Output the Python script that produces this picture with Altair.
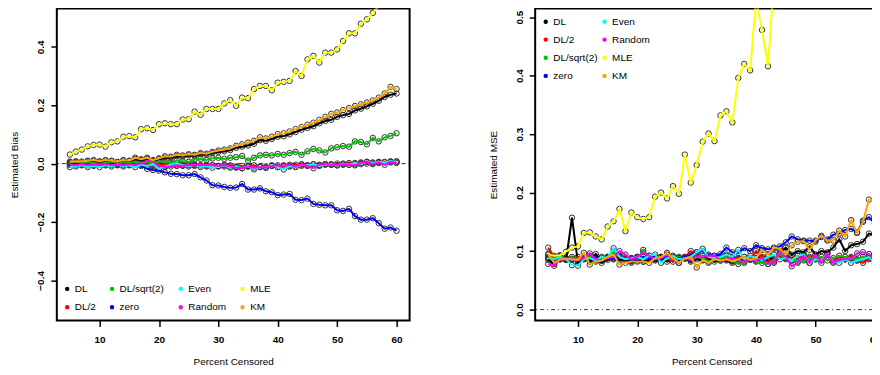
import altair as alt
import pandas as pd

# ---------------- data ----------------
x_pct = list(range(5, 61))
series = ["DL", "DL/2", "DL/sqrt(2)", "zero", "Even", "Random", "MLE", "KM"]
colors = ["#000000", "#FF0000", "#00C400", "#0000FF", "#00FFFF", "#FF00FF", "#FFFF00", "#FFA500"]

bias_DL = [0.004, 0.006, 0.004, 0.008, 0.010, 0.006, 0.010, 0.008, 0.004, 0.010,
           0.008, 0.016, 0.012, 0.016, 0.010, 0.015, 0.020, 0.020, 0.025, 0.024,
           0.028, 0.027, 0.032, 0.030, 0.036, 0.040, 0.042, 0.046, 0.054, 0.058,
           0.062, 0.068, 0.080, 0.078, 0.084, 0.092, 0.094, 0.100, 0.108, 0.116,
           0.122, 0.128, 0.138, 0.146, 0.150, 0.160, 0.166, 0.170, 0.182, 0.188,
           0.196, 0.205, 0.215, 0.228, 0.236, 0.240]
bias_DL2 = [0.000, 0.002, -0.002, 0.001, -0.003, 0.000, -0.002, 0.002, -0.003, 0.000,
            -0.002, 0.002, -0.004, -0.002, -0.008, -0.004, -0.006, -0.003, -0.008, -0.006,
            -0.004, -0.008, -0.006, -0.010, -0.005, -0.008, -0.010, -0.006, -0.012, -0.008,
            -0.010, -0.006, -0.012, -0.010, -0.008, -0.012, -0.006, -0.010, -0.004, -0.008,
            -0.006, -0.003, -0.006, -0.002, -0.004, 0.000, -0.004, 0.002, -0.002, 0.004,
            0.000, 0.004, 0.002, 0.006, 0.004, 0.008]
bias_DLs2 = [0.002, 0.003, 0.000, 0.004, 0.002, -0.002, 0.003, 0.002, -0.002, 0.004,
             0.001, 0.006, 0.002, 0.005, 0.000, 0.008, 0.006, 0.004, 0.010, 0.008,
             0.006, 0.014, 0.016, 0.012, 0.018, 0.020, 0.016, 0.020, 0.022, 0.026,
             0.010, 0.020, 0.028, 0.030, 0.028, 0.033, 0.030, 0.036, 0.040, 0.030,
             0.042, 0.050, 0.045, 0.038, 0.052, 0.056, 0.060, 0.058, 0.076, 0.074,
             0.066, 0.088, 0.076, 0.090, 0.095, 0.104]
bias_zero = [-0.003, 0.000, -0.004, -0.002, -0.006, -0.003, -0.005, -0.001, -0.006, -0.003,
             -0.004, -0.001, -0.008, -0.018, -0.022, -0.024, -0.030, -0.035, -0.036, -0.040,
             -0.040, -0.036, -0.047, -0.058, -0.074, -0.075, -0.080, -0.083, -0.082, -0.070,
             -0.089, -0.089, -0.085, -0.095, -0.098, -0.108, -0.106, -0.104, -0.124, -0.125,
             -0.120, -0.138, -0.141, -0.143, -0.143, -0.160, -0.162, -0.155, -0.180, -0.192,
             -0.192, -0.187, -0.204, -0.223, -0.219, -0.230]
bias_Even = [-0.012, -0.010, -0.006, -0.012, -0.008, -0.012, -0.006, -0.010, -0.004, -0.010,
             -0.006, -0.012, -0.004, -0.008, -0.002, -0.018, -0.010, -0.004, 0.002, -0.006,
             -0.010, -0.004, -0.012, -0.008, -0.014, -0.010, -0.006, -0.014, -0.010, -0.016,
             -0.008, -0.020, -0.010, -0.014, -0.006, -0.012, -0.020, -0.008, -0.012, -0.004,
             -0.006, -0.002, -0.008, -0.004, -0.002, -0.006, 0.000, -0.004, 0.002, -0.002,
             0.006, 0.002, 0.006, 0.004, 0.008, 0.006]
bias_Random = [-0.004, -0.006, -0.002, -0.006, -0.003, -0.004, -0.002, -0.005, -0.004, -0.006,
               -0.003, -0.002, 0.000, 0.010, 0.008, -0.008, -0.012, -0.010, -0.006, -0.008,
               -0.006, -0.004, -0.006, -0.004, -0.006, -0.008, -0.004, -0.010, -0.014, -0.016,
               -0.010, -0.014, -0.012, -0.014, -0.008, -0.006, -0.008, -0.004, -0.010, -0.002,
               -0.008, -0.016, -0.004, -0.002, -0.004, -0.006, -0.002, -0.004, -0.006, 0.002,
               0.006, -0.002, 0.004, -0.004, 0.006, 0.002]
bias_MLE = [0.031, 0.041, 0.048, 0.059, 0.064, 0.065, 0.058, 0.073, 0.076, 0.092,
            0.094, 0.090, 0.118, 0.121, 0.115, 0.135, 0.138, 0.135, 0.135, 0.151,
            0.152, 0.178, 0.167, 0.187, 0.187, 0.187, 0.206, 0.217, 0.198, 0.226,
            0.224, 0.255, 0.266, 0.266, 0.251, 0.277, 0.280, 0.283, 0.317, 0.300,
            0.357, 0.369, 0.346, 0.380, 0.380, 0.391, 0.420, 0.446, 0.446, 0.479,
            0.494, 0.516, 0.539, 0.565, 0.590, 0.620]
bias_KM = [0.007, 0.008, 0.007, 0.010, 0.012, 0.008, 0.012, 0.010, 0.006, 0.012,
           0.010, 0.020, 0.015, 0.020, 0.012, 0.018, 0.025, 0.024, 0.030, 0.028,
           0.032, 0.030, 0.036, 0.034, 0.040, 0.045, 0.048, 0.052, 0.061, 0.066,
           0.072, 0.078, 0.090, 0.086, 0.092, 0.101, 0.104, 0.110, 0.118, 0.125,
           0.133, 0.140, 0.150, 0.160, 0.170, 0.175, 0.183, 0.190, 0.197, 0.203,
           0.209, 0.216, 0.226, 0.240, 0.263, 0.255]

mse_DL = [0.085, 0.078, 0.092, 0.085, 0.157, 0.080, 0.088, 0.082, 0.095, 0.080,
          0.085, 0.088, 0.084, 0.086, 0.080, 0.084, 0.082, 0.086, 0.084, 0.088,
          0.082, 0.086, 0.084, 0.088, 0.082, 0.086, 0.084, 0.088, 0.082, 0.086,
          0.084, 0.080, 0.086, 0.084, 0.088, 0.084, 0.086, 0.084, 0.088, 0.096,
          0.106, 0.094, 0.100, 0.098, 0.108, 0.094, 0.100, 0.098, 0.106, 0.120,
          0.100, 0.110, 0.112, 0.116, 0.130, 0.127]
mse_DL2 = [0.106, 0.090, 0.086, 0.088, 0.085, 0.090, 0.086, 0.092, 0.088, 0.085,
           0.090, 0.087, 0.092, 0.088, 0.086, 0.090, 0.085, 0.088, 0.086, 0.090,
           0.087, 0.082, 0.088, 0.090, 0.100, 0.092, 0.088, 0.090, 0.086, 0.088,
           0.092, 0.086, 0.088, 0.090, 0.086, 0.100, 0.090, 0.086, 0.080, 0.090,
           0.086, 0.088, 0.092, 0.086, 0.090, 0.088, 0.086, 0.090, 0.085, 0.088,
           0.086, 0.090, 0.084, 0.080, 0.086, 0.090]
mse_DLs2 = [0.090, 0.088, 0.092, 0.086, 0.090, 0.086, 0.088, 0.090, 0.086, 0.088,
            0.090, 0.100, 0.090, 0.086, 0.088, 0.086, 0.102, 0.088, 0.086, 0.090,
            0.088, 0.086, 0.090, 0.088, 0.086, 0.090, 0.088, 0.082, 0.086, 0.088,
            0.090, 0.085, 0.078, 0.080, 0.088, 0.082, 0.080, 0.078, 0.086, 0.096,
            0.088, 0.085, 0.082, 0.084, 0.088, 0.086, 0.090, 0.084, 0.088, 0.092,
            0.090, 0.088, 0.086, 0.090, 0.088, 0.092]
mse_zero = [0.088, 0.086, 0.088, 0.085, 0.087, 0.084, 0.088, 0.086, 0.090, 0.084,
            0.088, 0.086, 0.090, 0.087, 0.085, 0.088, 0.090, 0.087, 0.090, 0.086,
            0.092, 0.090, 0.088, 0.090, 0.094, 0.098, 0.100, 0.094, 0.092, 0.095,
            0.106, 0.098, 0.097, 0.105, 0.100, 0.110, 0.105, 0.103, 0.104, 0.108,
            0.115, 0.125, 0.120, 0.118, 0.118, 0.116, 0.124, 0.120, 0.128, 0.130,
            0.136, 0.138, 0.132, 0.152, 0.158, 0.147]
mse_Even = [0.088, 0.086, 0.090, 0.086, 0.076, 0.075, 0.086, 0.088, 0.084, 0.090,
            0.088, 0.105, 0.090, 0.086, 0.088, 0.090, 0.086, 0.092, 0.094, 0.080,
            0.088, 0.092, 0.086, 0.088, 0.090, 0.098, 0.104, 0.090, 0.088, 0.090,
            0.094, 0.090, 0.102, 0.086, 0.092, 0.088, 0.084, 0.090, 0.094, 0.086,
            0.088, 0.084, 0.092, 0.094, 0.080, 0.086, 0.084, 0.095, 0.082, 0.080,
            0.086, 0.080, 0.084, 0.086, 0.090, 0.078]
mse_Random = [0.078, 0.075, 0.086, 0.088, 0.086, 0.084, 0.088, 0.096, 0.086, 0.084,
              0.088, 0.090, 0.100, 0.094, 0.086, 0.090, 0.098, 0.092, 0.086, 0.088,
              0.094, 0.086, 0.080, 0.088, 0.084, 0.090, 0.092, 0.092, 0.092, 0.084,
              0.086, 0.088, 0.084, 0.082, 0.086, 0.084, 0.088, 0.078, 0.082, 0.100,
              0.090, 0.074, 0.080, 0.092, 0.080, 0.094, 0.080, 0.096, 0.080, 0.086,
              0.086, 0.086, 0.096, 0.098, 0.095, 0.082]
mse_MLE = [0.094, 0.092, 0.093, 0.099, 0.106, 0.108, 0.131, 0.132, 0.125, 0.120,
           0.142, 0.151, 0.172, 0.134, 0.166, 0.158, 0.155, 0.158, 0.193, 0.200,
           0.190, 0.211, 0.198, 0.265, 0.217, 0.247, 0.287, 0.301, 0.288, 0.332,
           0.339, 0.320, 0.396, 0.420, 0.409, 0.530, 0.478, 0.416, 0.560, 0.600,
           0.640, 0.690, 0.720, 0.780, 0.820, 0.880, 0.930, 0.990, 1.040, 1.100,
           1.160, 1.230, 1.290, 1.360, 1.420, 1.500]
mse_KM = [0.095, 0.080, 0.086, 0.086, 0.086, 0.085, 0.097, 0.077, 0.082, 0.084,
          0.090, 0.094, 0.077, 0.080, 0.082, 0.082, 0.082, 0.080, 0.088, 0.090,
          0.097, 0.088, 0.080, 0.087, 0.090, 0.072, 0.085, 0.080, 0.086, 0.084,
          0.086, 0.082, 0.086, 0.090, 0.085, 0.088, 0.102, 0.094, 0.106, 0.104,
          0.094, 0.110, 0.116, 0.117, 0.102, 0.118, 0.126, 0.118, 0.118, 0.135,
          0.125, 0.153, 0.131, 0.150, 0.188, 0.187]

x_ticks = [10, 20, 30, 40, 50, 60]
bias_ticks = [-0.4, -0.2, 0.0, 0.2, 0.4]
mse_ticks = [0.0, 0.1, 0.2, 0.3, 0.4, 0.5]

bias_values = [bias_DL, bias_DL2, bias_DLs2, bias_zero, bias_Even, bias_Random, bias_MLE, bias_KM]
mse_values = [mse_DL, mse_DL2, mse_DLs2, mse_zero, mse_Even, mse_Random, mse_MLE, mse_KM]
for arr in bias_values + mse_values:
    assert len(arr) == len(x_pct)


def long_table(values):
    rows = []
    for k, (name, vals) in enumerate(zip(series, values)):
        for xv, yv in zip(x_pct, vals):
            rows.append({"x": xv, "value": yv, "series": name, "k": k})
    return pd.DataFrame(rows)


FONT = "Liberation Sans"
W, H = 354, 313
AX = dict(grid=False, domain=False, ticks=True, tickSize=6, tickWidth=1.5, tickColor="black",
          labelFont=FONT, labelFontSize=10, labelFontWeight="bold", labelColor="black",
          titleFont=FONT, titleFontSize=10, titleFontWeight="normal", titleColor="black",
          labelOverlap=False, labelFlush=False)


def panel(df, ydomain, yticks, ytitle, legend_kw):
    cscale = alt.Scale(domain=series, range=colors)
    xenc = alt.X("x:Q",
                 scale=alt.Scale(domain=[2.8, 62.2], nice=False, zero=False),
                 axis=alt.Axis(values=x_ticks, format="d", title="Percent Censored",
                               titleX=W / 2, titleY=44, titleBaseline="alphabetic",
                               labelBaseline="alphabetic", labelPadding=16, **AX))
    yenc = alt.Y("value:Q",
                 scale=alt.Scale(domain=ydomain, nice=False, zero=False),
                 axis=alt.Axis(values=yticks, format=".1f", title=ytitle,
                               titleX=-39, titleY=H / 2, titleAngle=270,
                               titleBaseline="alphabetic", titleAlign="center",
                               labelAngle=270, labelAlign="center",
                               labelBaseline="alphabetic", labelPadding=7, **AX))
    rule = alt.Chart(pd.DataFrame({"z": [0]})).mark_rule(
        color="black", strokeWidth=0.8, strokeDash=[1, 3, 4, 3]
    ).encode(y=alt.datum(0))
    base = alt.Chart(df)
    circles = base.mark_point(shape="circle", filled=False, size=30, color="#333333",
                              strokeWidth=1, opacity=1, clip=True).encode(x=xenc, y=yenc)
    lines = base.mark_line(strokeWidth=2, clip=True).encode(
        x="x:Q", y="value:Q",
        stroke=alt.Stroke(
            "series:N", scale=cscale,
            legend=alt.Legend(orient="none", title=None, padding=0,
                              symbolType="circle", symbolSize=5,
                              symbolStrokeWidth=2.2, symbolOpacity=1,
                              labelFont=FONT, labelFontSize=10,
                              labelColor="black", gridAlign="each", **legend_kw)),
        order="x:Q")
    return alt.layer(rule, circles, lines).properties(width=W, height=H)


left = panel(long_table(bias_values), [-0.5375, 0.5307], bias_ticks, "Estimated Bias",
             dict(legendX=5.4, legendY=276.0, columns=4, columnPadding=10,
                  rowPadding=6.7, labelOffset=2.6))
right = panel(long_table(mse_values), [-0.0187, 0.5145], mse_ticks, "Estimated MSE",
              dict(legendX=5.6, legendY=7.9, columns=2, columnPadding=0,
                   rowPadding=6.2, labelOffset=2.6))

chart = alt.hconcat(left, right, spacing=76).resolve_scale(
    stroke="independent"
).properties(
    padding={"left": 1, "top": -1, "right": -18, "bottom": -2}
).configure_view(stroke="black", strokeWidth=2)

chart.save("out.html", embed_options={"renderer": "svg", "actions": False})
